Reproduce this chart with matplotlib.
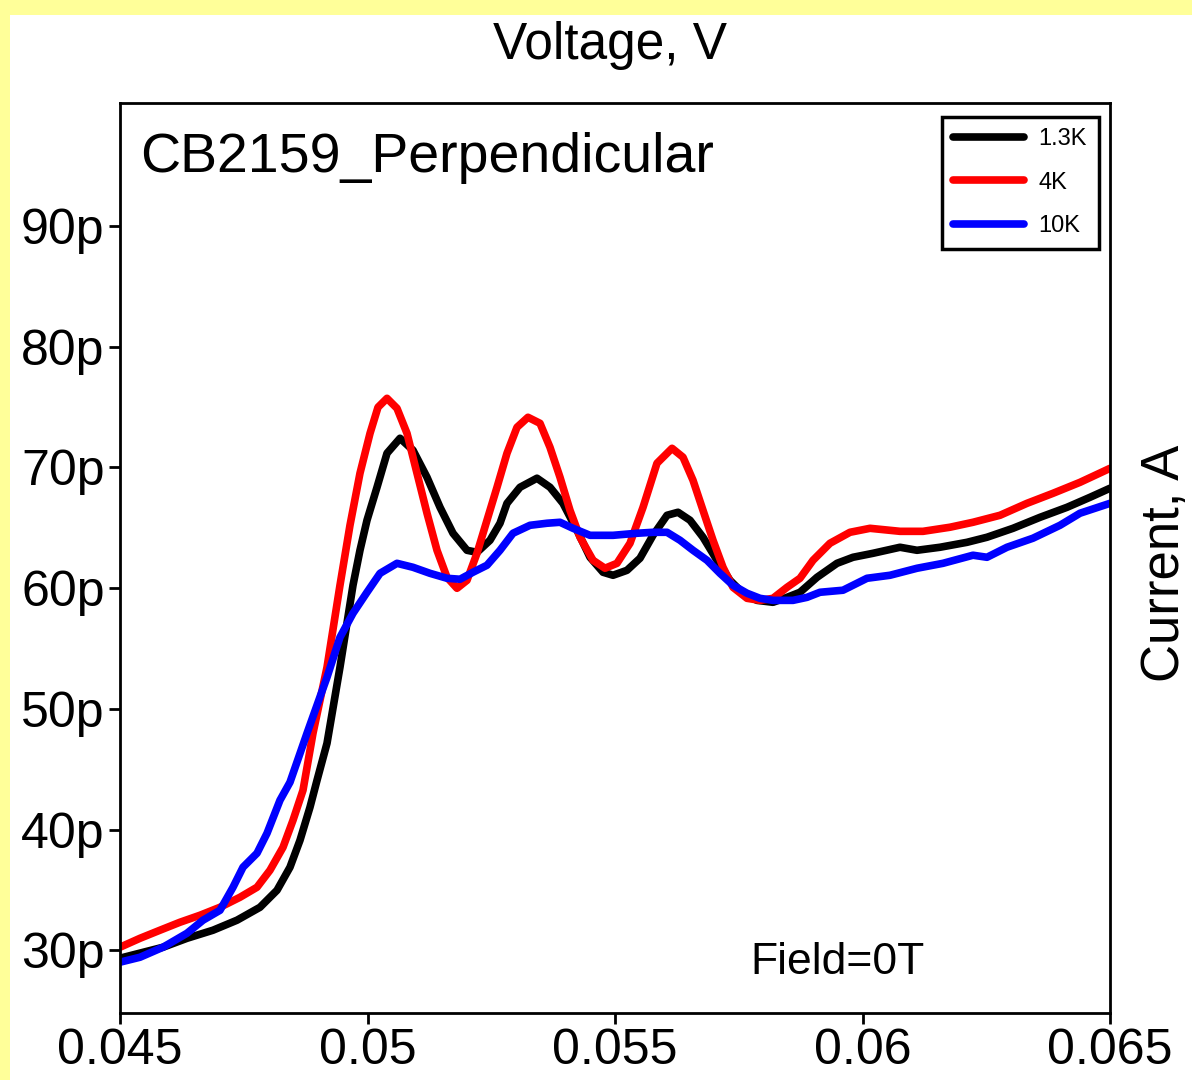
"""CB2159 perpendicular I-V curves at three temperatures (Field = 0T)."""
import matplotlib
matplotlib.use("Agg")
import matplotlib.pyplot as plt
from matplotlib.patches import Rectangle
from matplotlib.ticker import FuncFormatter

# voltage [V] and current [pA]
v_13k = [0.045000, 0.045869, 0.046354, 0.046879, 0.047364, 0.047828, 0.048172, 0.048434,
         0.048636, 0.048838, 0.048980, 0.049182, 0.049444, 0.049707, 0.049848, 0.049990,
         0.050192, 0.050394, 0.050657, 0.050919, 0.051202, 0.051465, 0.051727, 0.052010,
         0.052212, 0.052475, 0.052677, 0.052818, 0.053081, 0.053424, 0.053687, 0.053949,
         0.054232, 0.054495, 0.054758, 0.054960, 0.055242, 0.055505, 0.055768, 0.056051,
         0.056273, 0.056515, 0.056778, 0.057061, 0.057323, 0.057586, 0.057869, 0.058192,
         0.058475, 0.058737, 0.059081, 0.059485, 0.059808, 0.060212, 0.060758, 0.061101,
         0.061566, 0.062111, 0.062515, 0.063040, 0.063586, 0.064131, 0.064596, 0.065000]
i_13k = [29.34, 30.25, 30.99, 31.66, 32.49, 33.56, 34.97, 36.88,
         39.11, 41.85, 44.08, 47.15, 53.45, 60.24, 63.14, 65.63,
         68.36, 71.18, 72.42, 71.43, 69.19, 66.70, 64.55, 63.14,
         62.97, 63.97, 65.38, 67.03, 68.36, 69.11, 68.36, 67.03,
         64.80, 62.56, 61.32, 61.07, 61.48, 62.48, 64.38, 66.04,
         66.29, 65.63, 64.22, 62.31, 60.65, 59.58, 58.99, 58.83,
         59.24, 59.66, 60.90, 62.06, 62.56, 62.89, 63.39, 63.14,
         63.39, 63.80, 64.22, 64.96, 65.87, 66.70, 67.53, 68.28]

v_4k = [0.045000, 0.045404, 0.045808, 0.046212, 0.046616, 0.047020, 0.047424, 0.047768,
        0.048030, 0.048293, 0.048495, 0.048697, 0.048899, 0.049182, 0.049444, 0.049646,
        0.049848, 0.050051, 0.050212, 0.050394, 0.050596, 0.050798, 0.051000, 0.051202,
        0.051404, 0.051606, 0.051808, 0.052010, 0.052212, 0.052414, 0.052616, 0.052818,
        0.053020, 0.053242, 0.053485, 0.053687, 0.053889, 0.054091, 0.054293, 0.054556,
        0.054798, 0.055040, 0.055303, 0.055566, 0.055848, 0.056152, 0.056374, 0.056576,
        0.056778, 0.056980, 0.057182, 0.057384, 0.057667, 0.057929, 0.058192, 0.058475,
        0.058737, 0.059000, 0.059343, 0.059747, 0.060152, 0.060758, 0.061222, 0.061768,
        0.062232, 0.062778, 0.063323, 0.063848, 0.064394, 0.065000]
i_4k = [30.25, 30.99, 31.66, 32.32, 32.90, 33.56, 34.39, 35.22,
        36.63, 38.53, 40.77, 43.26, 47.98, 53.45, 60.24, 65.21,
        69.52, 72.83, 74.99, 75.73, 74.90, 72.83, 69.52, 66.21,
        63.14, 60.90, 59.99, 60.65, 62.89, 65.63, 68.36, 71.18,
        73.33, 74.16, 73.66, 71.67, 69.19, 66.45, 64.22, 62.31,
        61.65, 62.06, 63.72, 66.70, 70.35, 71.59, 70.85, 68.94,
        66.45, 63.97, 61.73, 60.07, 59.16, 58.99, 59.16, 60.07,
        60.82, 62.31, 63.72, 64.63, 64.96, 64.71, 64.71, 65.05,
        65.46, 66.04, 67.03, 67.86, 68.77, 69.93]

v_10k = [0.045000, 0.045404, 0.045869, 0.046354, 0.046677, 0.047020, 0.047283, 0.047485,
         0.047768, 0.047970, 0.048232, 0.048434, 0.048778, 0.049182, 0.049444, 0.049707,
         0.049990, 0.050253, 0.050596, 0.050919, 0.051263, 0.051606, 0.051869, 0.052131,
         0.052414, 0.052677, 0.052939, 0.053283, 0.053626, 0.053889, 0.054152, 0.054495,
         0.054960, 0.055444, 0.055768, 0.056051, 0.056313, 0.056576, 0.056859, 0.057121,
         0.057384, 0.057667, 0.057929, 0.058192, 0.058596, 0.058879, 0.059141, 0.059606,
         0.060091, 0.060556, 0.061101, 0.061626, 0.062232, 0.062515, 0.062919, 0.063444,
         0.063990, 0.064394, 0.065000]
i_10k = [29.01, 29.42, 30.25, 31.41, 32.49, 33.31, 35.22, 36.88,
         38.04, 39.69, 42.43, 43.92, 47.98, 52.62, 55.93, 57.92,
         59.66, 61.23, 62.06, 61.73, 61.23, 60.82, 60.74, 61.32,
         61.90, 63.14, 64.55, 65.21, 65.38, 65.46, 64.96, 64.38,
         64.38, 64.55, 64.63, 64.63, 63.97, 63.14, 62.31, 61.23,
         60.24, 59.58, 59.16, 58.99, 58.99, 59.24, 59.66, 59.83,
         60.82, 61.07, 61.65, 62.06, 62.73, 62.56, 63.39, 64.14,
         65.21, 66.21, 67.03]

x_ticks = [0.045, 0.05, 0.055, 0.06, 0.065]
y_ticks = [30, 40, 50, 60, 70, 80, 90]

plt.rcParams["font.family"] = ["Liberation Sans", "DejaVu Sans"]

fig = plt.figure(figsize=(11.92, 10.8), dpi=100, facecolor="#ffff99")
fig.patches.append(Rectangle((10 / 1192, 0), 1, (1080 - 15) / 1080,
                             transform=fig.transFigure, fc="white", ec="none", zorder=-10))

ax = fig.add_axes([120 / 1192, 1 - 1013 / 1080, 990 / 1192, 910 / 1080])
style = dict(lw=5.5, solid_capstyle="round", solid_joinstyle="round")
ax.plot(v_13k, i_13k, color="black", label="1.3K", **style)
ax.plot(v_4k, i_4k, color="#ff0000", label="4K", **style)
ax.plot(v_10k, i_10k, color="#0000ff", label="10K", **style)

ax.set_xlim(0.045, 0.065)
ax.set_ylim(24.8, 100.2)
ax.set_xticks(x_ticks)
ax.set_yticks(y_ticks)
ax.xaxis.set_major_formatter(FuncFormatter(lambda v, _: f"{v:g}"))
ax.yaxis.set_major_formatter(FuncFormatter(lambda v, _: f"{v:g}p"))
ax.tick_params(direction="out", length=8, width=2, pad=3, labelsize=36)
for s in ax.spines.values():
    s.set_linewidth(2)

ax.text(0.02, 0.94, "CB2159_Perpendicular", transform=ax.transAxes,
        fontsize=40, va="center", ha="left")
ax.text(0.637, 0.055, "Field=0T", transform=ax.transAxes,
        fontsize=32, va="center", ha="left")

fig.text(610 / 1192, 1 - 46 / 1080, "Voltage, V", fontsize=37,
         ha="center", va="center")
fig.text(1165 / 1192, 1 - 563 / 1080, "Current, A", fontsize=38,
         rotation=90, ha="center", va="center")

leg = ax.legend(loc="upper right", bbox_to_anchor=(0.9885, 0.985), borderaxespad=0,
                fontsize=17, handlelength=3.0, handletextpad=0.6, borderpad=0.5,
                labelspacing=0.9, fancybox=False, framealpha=1)
leg.get_frame().set_edgecolor("black")
leg.get_frame().set_linewidth(2.5)

fig.savefig("out.png", dpi=100, facecolor=fig.get_facecolor())
